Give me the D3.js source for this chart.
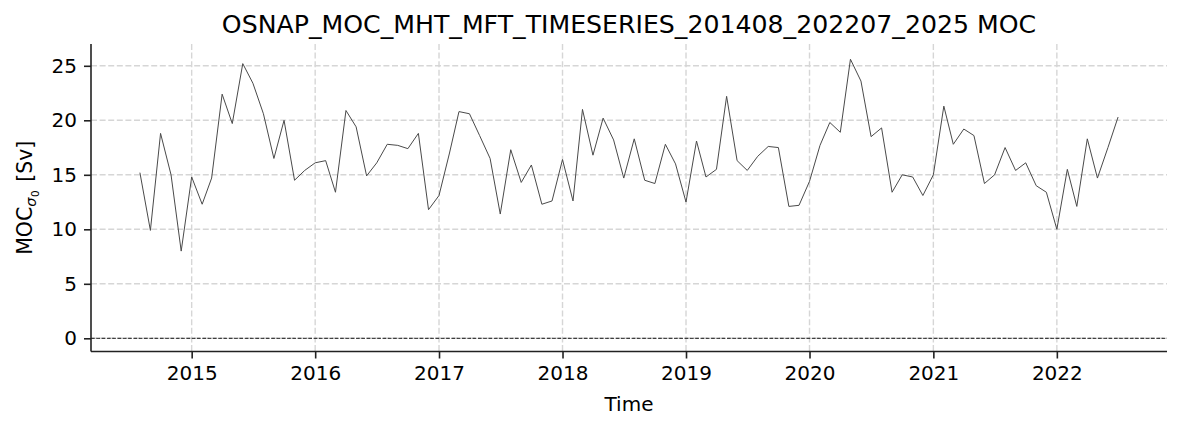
<!DOCTYPE html>
<html>
<head>
<meta charset="utf-8">
<script src="https://cdn.jsdelivr.net/npm/d3@7"></script>
<style>
  html, body { margin: 0; padding: 0; background: #fff; }
  svg { display: block; }
  text { font-family: "DejaVu Sans", sans-serif; fill: #000; }
</style>
</head>
<body>
<svg id="chart" width="1182" height="430"></svg>
<script>
// ---- data (monthly, Aug 2014 .. Jul 2022) ----
const startMonth = "2014-08";
const mocValues = [
  15.2, 9.9, 18.8, 15.0, 8.0,
  14.8, 12.3, 14.7, 22.4, 19.7, 25.2, 23.4, 20.6, 16.5, 20.0, 14.5, 15.4,
  16.1, 16.3, 13.4, 20.9, 19.4, 14.9, 16.1, 17.8, 17.7, 17.4, 18.8, 11.8,
  13.1, 17.0, 20.8, 20.6, 18.6, 16.5, 11.4, 17.3, 14.3, 15.9, 12.3, 12.6,
  16.4, 12.6, 21.0, 16.8, 20.2, 18.2, 14.7, 18.3, 14.5, 14.2, 17.8, 16.0,
  12.5, 18.1, 14.8, 15.5, 22.2, 16.3, 15.4, 16.7, 17.6, 17.5, 12.1, 12.2,
  14.4, 17.7, 19.8, 18.9, 25.6, 23.6, 18.5, 19.3, 13.4, 15.0, 14.8, 13.1,
  15.0, 21.3, 17.8, 19.2, 18.6, 14.2, 15.0, 17.5, 15.4, 16.1, 14.0, 13.4,
  10.0, 15.5, 12.1, 18.3, 14.7, 17.5, 20.3
];
const yTicks = [0, 5, 10, 15, 20, 25];
const xTickYears = [2015, 2016, 2017, 2018, 2019, 2020, 2021, 2022];
const yDomain = [-1.21, 27.0];
const titleText = "OSNAP_MOC_MHT_MFT_TIMESERIES_201408_202207_2025 MOC";

// ---- build dated series ----
const [sy, sm] = startMonth.split("-").map(Number);
const series = mocValues.map((v, i) => ({ date: new Date(Date.UTC(sy, sm - 1 + i, 1)), value: v }));

// ---- layout ----
const svg = d3.select("#chart");
const L = 91, R = 1167, T = 44, B = 351.5;

const d0 = series[0].date.getTime(), d1 = series[series.length - 1].date.getTime();
const pad = (d1 - d0) * 0.05;
const x = d3.scaleUtc().domain([new Date(d0 - pad), new Date(d1 + pad)]).range([L, R]);
const y = d3.scaleLinear().domain(yDomain).range([B, T]);

const xTickDates = xTickYears.map(yr => new Date(Date.UTC(yr, 0, 1)));

// grid
const grid = svg.append("g");
grid.selectAll("line.gy").data(yTicks).join("line")
  .attr("x1", L).attr("x2", R)
  .attr("y1", d => y(d)).attr("y2", d => y(d))
  .attr("stroke", "#d6d6d6").attr("stroke-width", 1.4)
  .attr("stroke-dasharray", "6,2.6");
grid.selectAll("line.gx").data(xTickDates).join("line")
  .attr("y1", T).attr("y2", B)
  .attr("x1", d => x(d)).attr("x2", d => x(d))
  .attr("stroke", "#d6d6d6").attr("stroke-width", 1.4)
  .attr("stroke-dasharray", "6,2.6");

// zero line
svg.append("line")
  .attr("x1", L).attr("x2", R)
  .attr("y1", y(0)).attr("y2", y(0))
  .attr("stroke", "#000").attr("stroke-width", 0.9)
  .attr("stroke-dasharray", "3.7,1.6");

// data line
const line = d3.line().x(d => x(d.date)).y(d => y(d.value));
svg.append("path").datum(series)
  .attr("d", line)
  .attr("fill", "none")
  .attr("stroke", "#4a4a4a")
  .attr("stroke-width", 1)
  .attr("stroke-linejoin", "miter");

// axes
const xAxis = d3.axisBottom(x).tickValues(xTickDates).tickFormat(d3.utcFormat("%Y"))
  .tickSize(7).tickPadding(7);
const yAxis = d3.axisLeft(y).tickValues(yTicks).tickFormat(d3.format("d"))
  .tickSize(7).tickPadding(7);

const gx = svg.append("g").attr("transform", `translate(0,${B})`).call(xAxis);
const gy = svg.append("g").attr("transform", `translate(${L},0)`).call(yAxis);
[gx, gy].forEach(g => {
  g.select(".domain").attr("stroke", "#222").attr("stroke-width", 1.6);
  g.selectAll(".tick line").attr("stroke", "#222").attr("stroke-width", 1.6);
  g.selectAll(".tick text").attr("font-family", "DejaVu Sans").attr("font-size", 20).attr("fill", "#000");
});
gx.select(".domain").attr("d", `M${L},0H${R}`);
gy.select(".domain").attr("d", `M0,${T}V${B}`);

// title
svg.append("text")
  .attr("x", (L + R) / 2).attr("y", 33)
  .attr("text-anchor", "middle")
  .attr("font-size", 25.2)
  .text(titleText);

// x label
svg.append("text")
  .attr("x", (L + R) / 2).attr("y", 410.5)
  .attr("text-anchor", "middle")
  .attr("font-size", 20)
  .text("Time");

// y label
const yl = svg.append("text")
  .attr("transform", `translate(32,${(T + B) / 2}) rotate(-90)`)
  .attr("text-anchor", "middle")
  .attr("font-size", 20.5);
yl.append("tspan").text("MOC");
yl.append("tspan").attr("font-style", "italic").attr("font-size", 14.5).attr("dy", 4).text("σ");
yl.append("tspan").attr("font-size", 10.5).attr("dy", 2.5).attr("dx", 0.5).text("0");
yl.append("tspan").attr("dy", -6.5).attr("dx", 2).text(" [Sv]");
</script>
</body>
</html>
